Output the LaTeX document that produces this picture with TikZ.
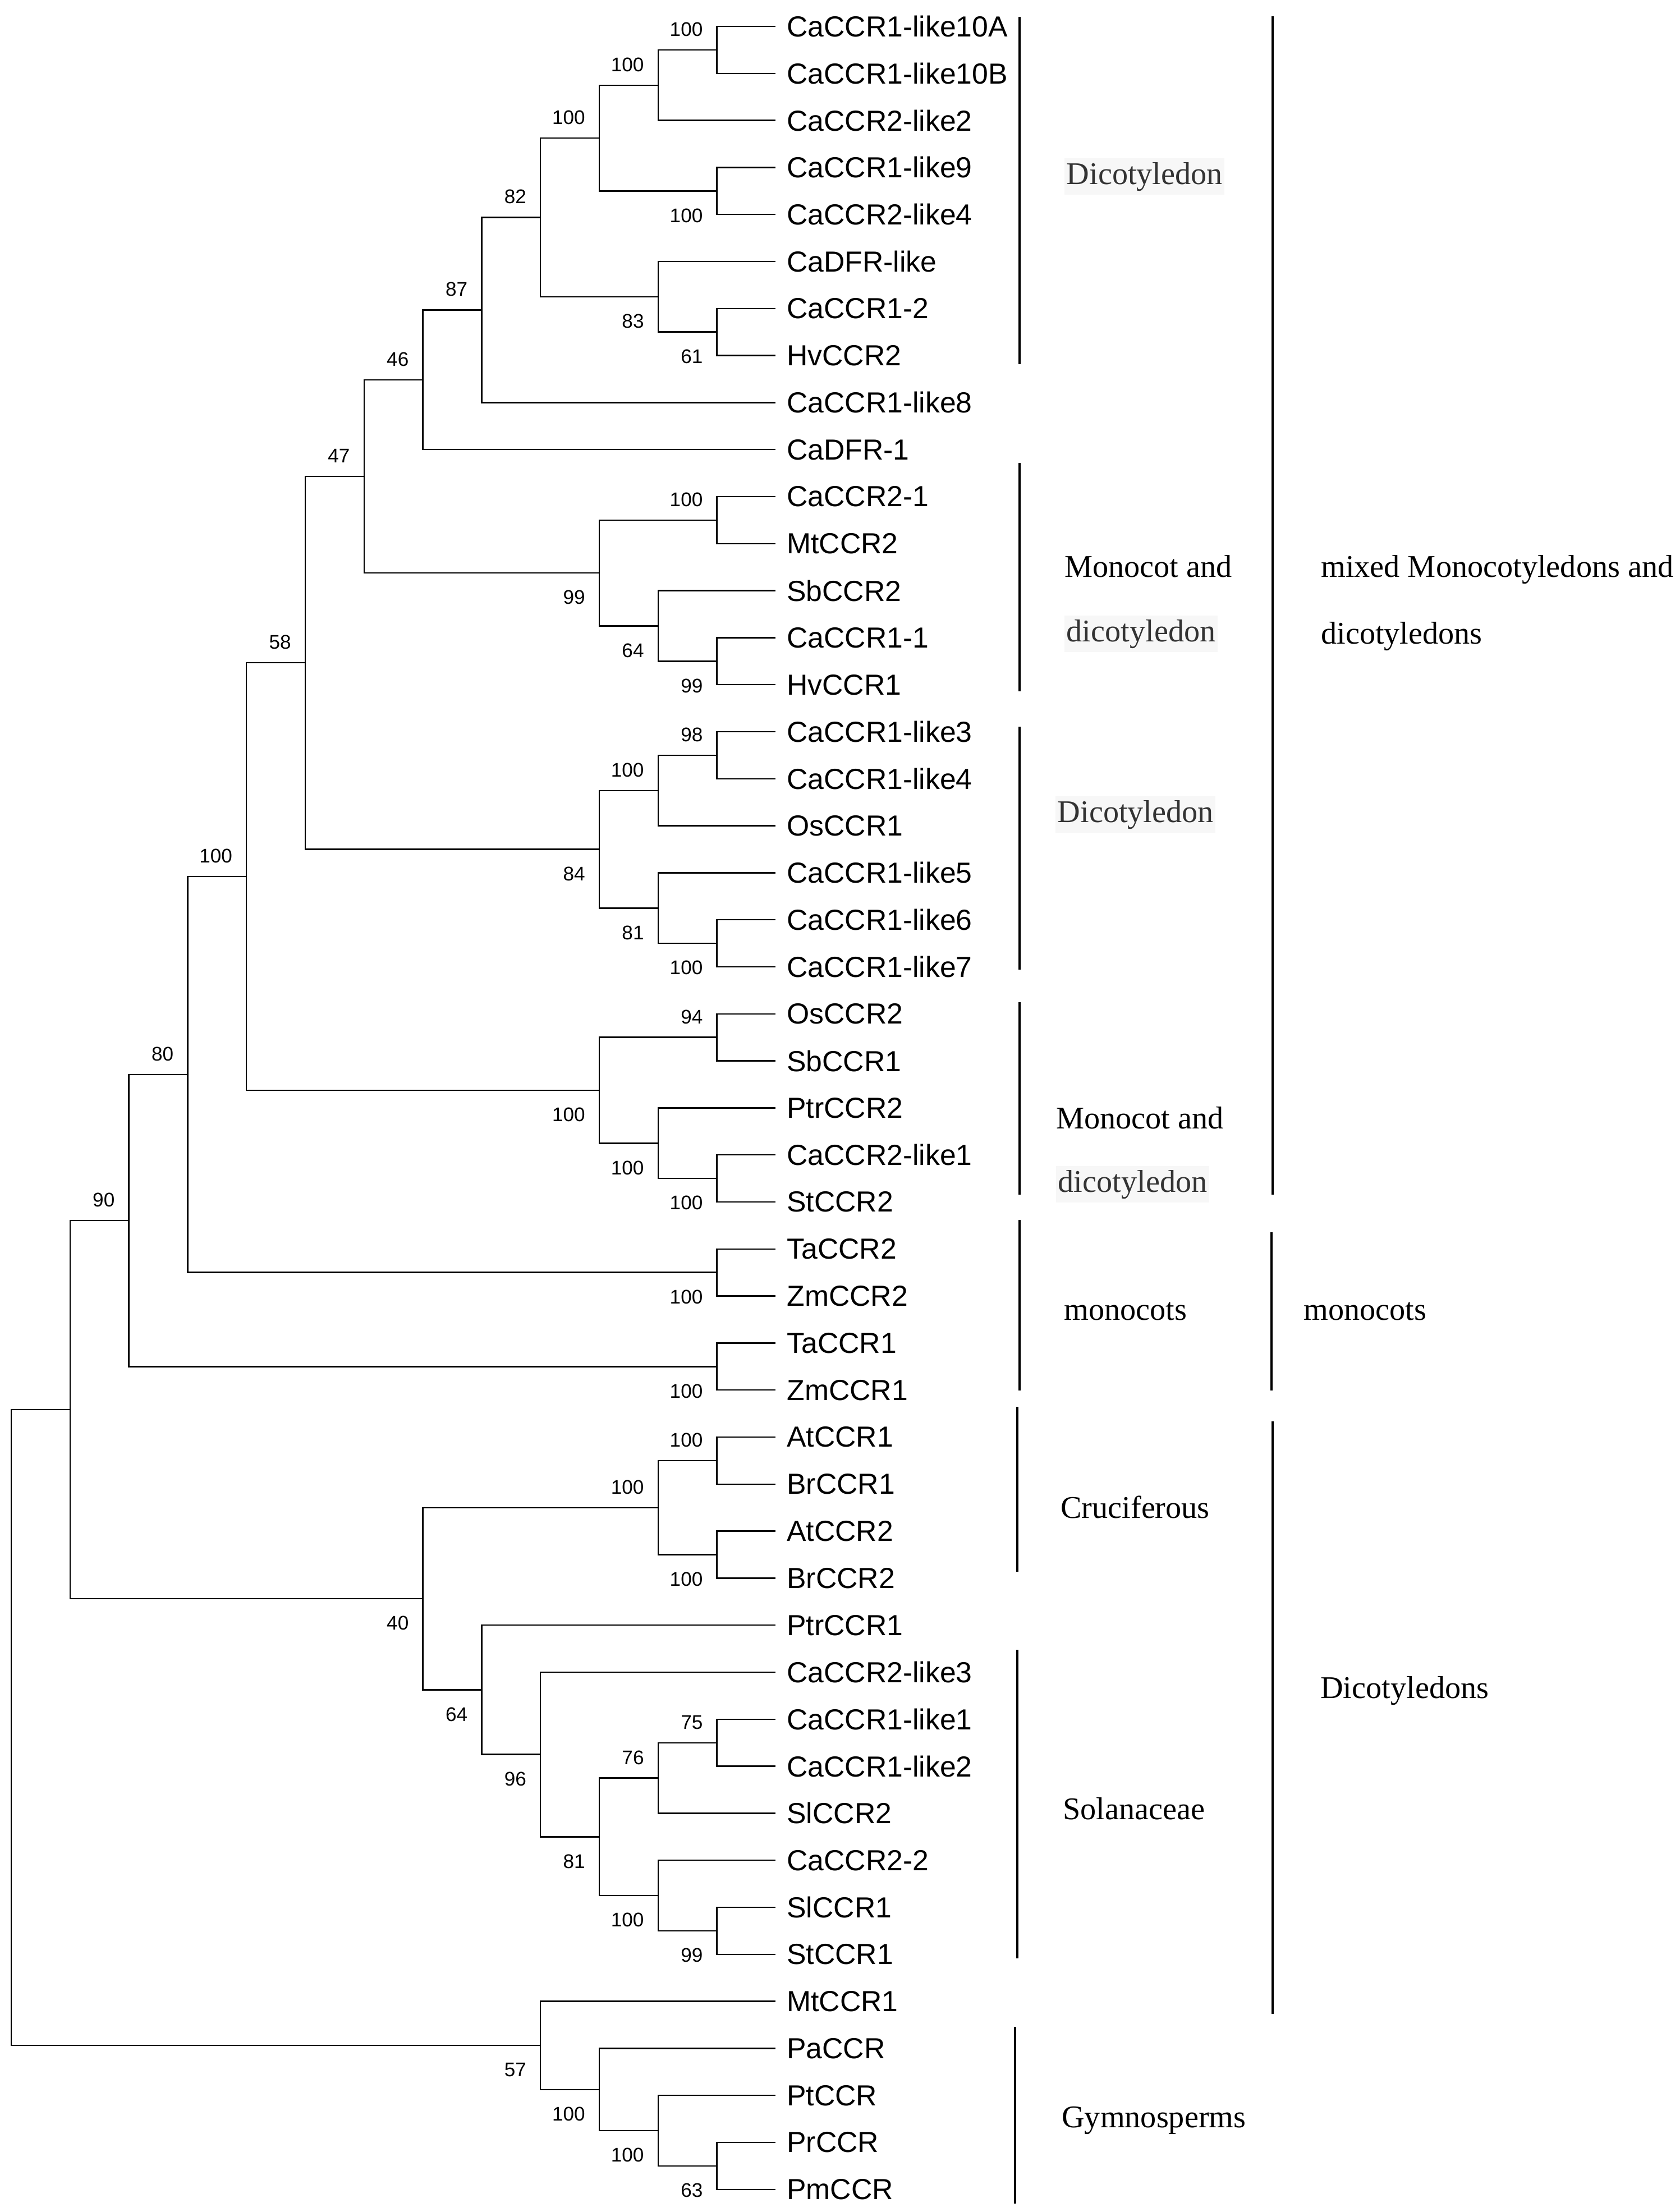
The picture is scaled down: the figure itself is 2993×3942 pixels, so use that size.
\documentclass[tikz,border=0pt]{standalone}
\usepackage{fontspec}
\setmainfont{Liberation Serif}
\setsansfont{Liberation Sans}
\newcommand{\clade}[3]{\draw (#1) |- (#2); \draw (#1) |- (#3);}
\newcommand{\bsup}[2]{\node[bs,anchor=south east,xshift=-0.24cm,yshift=0.23cm] at (#1) {#2};}
\newcommand{\bsdown}[2]{\node[bs,anchor=north east,xshift=-0.24cm,yshift=-0.30cm] at (#1) {#2};}

\begin{document}
\begin{tikzpicture}[
  x={(0.01cm,0)},y={(0,-0.01cm)},
  declare function={lv(\k)=20+104.8*\k; yrow(\k)=47+83.8*\k;},
  every path/.style={line width=0.7pt},
  leaf/.style={anchor=west,inner sep=0pt,outer xsep=0.2cm,font=\sffamily\fontsize{14.7}{17}\selectfont},
  bs/.style={inner sep=0pt,font=\sffamily\fontsize{10}{12}\selectfont},
  grp/.style={anchor=base west,inner sep=0pt,font=\fontsize{16}{19}\selectfont},
  grpgray/.style={grp,inner xsep=1pt,inner ysep=2pt,fill=black!3,text=black!80}]
\tikzstyle{bar}=[line width=1.4pt]
\useasboundingbox (0,0) rectangle (2993,3942);
\foreach \lab [count=\i from 0] in {CaCCR1-like10A,CaCCR1-like10B,CaCCR2-like2,CaCCR1-like9,CaCCR2-like4,
  CaDFR-like,CaCCR1-2,HvCCR2,CaCCR1-like8,CaDFR-1,CaCCR2-1,MtCCR2,SbCCR2,CaCCR1-1,HvCCR1,
  CaCCR1-like3,CaCCR1-like4,OsCCR1,CaCCR1-like5,CaCCR1-like6,CaCCR1-like7,OsCCR2,SbCCR1,PtrCCR2,
  CaCCR2-like1,StCCR2,TaCCR2,ZmCCR2,TaCCR1,ZmCCR1,AtCCR1,BrCCR1,AtCCR2,BrCCR2,PtrCCR1,
  CaCCR2-like3,CaCCR1-like1,CaCCR1-like2,SlCCR2,CaCCR2-2,SlCCR1,StCCR1,MtCCR1,PaCCR,PtCCR,PrCCR,PmCCR}
  \node[leaf] (t\i) at ({lv(13)},{yrow(\i)}) {\lab};

\coordinate (a1) at ({lv(12)},{yrow(0.5)});
\coordinate (a2) at ({lv(11)},{yrow(1.25)});
\coordinate (a3) at ({lv(12)},{yrow(3.5)});
\coordinate (a4) at ({lv(10)},{yrow(2.375)});
\coordinate (a5) at ({lv(12)},{yrow(6.5)});
\coordinate (a6) at ({lv(11)},{yrow(5.75)});
\coordinate (a7) at ({lv(9)},{yrow(4.0625)});
\coordinate (a8) at ({lv(8)},{yrow(6.03125)});
\coordinate (a9) at ({lv(7)},{yrow(7.515625)});
\coordinate (b1) at ({lv(12)},{yrow(10.5)});
\coordinate (b2) at ({lv(12)},{yrow(13.5)});
\coordinate (b3) at ({lv(11)},{yrow(12.75)});
\coordinate (b4) at ({lv(10)},{yrow(11.625)});
\coordinate (a10) at ({lv(6)},{yrow(9.5703125)});
\coordinate (c1) at ({lv(12)},{yrow(15.5)});
\coordinate (c2) at ({lv(11)},{yrow(16.25)});
\coordinate (c3) at ({lv(12)},{yrow(19.5)});
\coordinate (c4) at ({lv(11)},{yrow(18.75)});
\coordinate (c5) at ({lv(10)},{yrow(17.5)});
\coordinate (a11) at ({lv(5)},{yrow(13.53515625)});
\coordinate (d1) at ({lv(12)},{yrow(21.5)});
\coordinate (d2) at ({lv(12)},{yrow(24.5)});
\coordinate (d3) at ({lv(11)},{yrow(23.75)});
\coordinate (d4) at ({lv(10)},{yrow(22.625)});
\coordinate (a12) at ({lv(4)},{yrow(18.080078)});
\coordinate (e1) at ({lv(12)},{yrow(26.5)});
\coordinate (a13) at ({lv(3)},{yrow(22.290039)});
\coordinate (e2) at ({lv(12)},{yrow(28.5)});
\coordinate (a14) at ({lv(2)},{yrow(25.39502)});
\coordinate (f1) at ({lv(12)},{yrow(30.5)});
\coordinate (f2) at ({lv(12)},{yrow(32.5)});
\coordinate (f3) at ({lv(11)},{yrow(31.5)});
\coordinate (g1) at ({lv(12)},{yrow(36.5)});
\coordinate (g2) at ({lv(11)},{yrow(37.25)});
\coordinate (g3) at ({lv(12)},{yrow(40.5)});
\coordinate (g4) at ({lv(11)},{yrow(39.75)});
\coordinate (g5) at ({lv(10)},{yrow(38.5)});
\coordinate (g6) at ({lv(9)},{yrow(36.75)});
\coordinate (g7) at ({lv(8)},{yrow(35.375)});
\coordinate (f4) at ({lv(7)},{yrow(33.4375)});
\coordinate (a15) at ({lv(1)},{yrow(29.41626)});
\coordinate (h1) at ({lv(12)},{yrow(45.5)});
\coordinate (h2) at ({lv(11)},{yrow(44.75)});
\coordinate (h3) at ({lv(10)},{yrow(43.875)});
\coordinate (h4) at ({lv(9)},{yrow(42.9375)});
\coordinate (root) at ({lv(0)},{yrow(36.17688)});

\clade{a1}{t0}{t1}
\clade{a2}{a1}{t2}
\clade{a3}{t3}{t4}
\clade{a4}{a2}{a3}
\clade{a5}{t6}{t7}
\clade{a6}{t5}{a5}
\clade{a7}{a4}{a6}
\clade{a8}{a7}{t8}
\clade{a9}{a8}{t9}
\clade{b1}{t10}{t11}
\clade{b2}{t13}{t14}
\clade{b3}{t12}{b2}
\clade{b4}{b1}{b3}
\clade{a10}{a9}{b4}
\clade{c1}{t15}{t16}
\clade{c2}{c1}{t17}
\clade{c3}{t19}{t20}
\clade{c4}{t18}{c3}
\clade{c5}{c2}{c4}
\clade{a11}{a10}{c5}
\clade{d1}{t21}{t22}
\clade{d2}{t24}{t25}
\clade{d3}{t23}{d2}
\clade{d4}{d1}{d3}
\clade{a12}{a11}{d4}
\clade{e1}{t26}{t27}
\clade{a13}{a12}{e1}
\clade{e2}{t28}{t29}
\clade{a14}{a13}{e2}
\clade{f1}{t30}{t31}
\clade{f2}{t32}{t33}
\clade{f3}{f1}{f2}
\clade{g1}{t36}{t37}
\clade{g2}{g1}{t38}
\clade{g3}{t40}{t41}
\clade{g4}{t39}{g3}
\clade{g5}{g2}{g4}
\clade{g6}{t35}{g5}
\clade{g7}{t34}{g6}
\clade{f4}{f3}{g7}
\clade{a15}{a14}{f4}
\clade{h1}{t45}{t46}
\clade{h2}{t44}{h1}
\clade{h3}{t43}{h2}
\clade{h4}{t42}{h3}
\clade{root}{a15}{h4}

\bsup{a1}{100}
\bsup{a2}{100}
\bsdown{a3}{100}
\bsup{a4}{100}
\bsdown{a5}{61}
\bsdown{a6}{83}
\bsup{a7}{82}
\bsup{a8}{87}
\bsup{a9}{46}
\bsup{b1}{100}
\bsdown{b2}{99}
\bsdown{b3}{64}
\bsdown{b4}{99}
\bsup{a10}{47}
\bsup{c1}{98}
\bsup{c2}{100}
\bsdown{c3}{100}
\bsdown{c4}{81}
\bsdown{c5}{84}
\bsup{a11}{58}
\bsup{d1}{94}
\bsdown{d2}{100}
\bsdown{d3}{100}
\bsdown{d4}{100}
\bsup{a12}{100}
\bsdown{e1}{100}
\bsup{a13}{80}
\bsdown{e2}{100}
\bsup{a14}{90}
\bsup{f1}{100}
\bsdown{f2}{100}
\bsup{f3}{100}
\bsup{g1}{75}
\bsup{g2}{76}
\bsdown{g3}{99}
\bsdown{g4}{100}
\bsdown{g5}{81}
\bsdown{g6}{96}
\bsdown{g7}{64}
\bsdown{f4}{40}
\bsdown{h1}{63}
\bsdown{h2}{100}
\bsdown{h3}{100}
\bsdown{h4}{57}

\draw[bar] (1817,30) -- (1817,649);
\draw[bar] (1817,825) -- (1817,1232);
\draw[bar] (1817,1295) -- (1817,1728);
\draw[bar] (1817,1786) -- (1817,2129);
\draw[bar] (1817,2174) -- (1817,2478);
\draw[bar] (1813,2507) -- (1813,2801);
\draw[bar] (1813,2940) -- (1813,3490);
\draw[bar] (1809,3612) -- (1809,3927);
\draw[bar] (2268,29) -- (2268,2129);
\draw[bar] (2266,2196) -- (2266,2478);
\draw[bar] (2268,2533) -- (2268,3589);

\node[grpgray] (g-dic1) at (1896,328) {Dicotyledon};
\node[grp] (g-mon1) at (1896,1028) {Monocot and};
\node[grpgray] (g-dic2) at (1896,1143) {dicotyledon};
\node[grpgray] (g-dic3) at (1880,1465) {Dicotyledon};
\node[grp] (g-mon2) at (1881,2011) {Monocot and};
\node[grpgray] (g-dic4) at (1881,2124) {dicotyledon};
\node[grp] (g-mono1) at (1895,2352) {monocots};
\node[grp] (g-cru) at (1889,2705) {Cruciferous};
\node[grp] (g-sol) at (1893,3242) {Solanaceae};
\node[grp] (g-gym) at (1891,3791) {Gymnosperms};
\node[grp] (g-mix1) at (2353,1028) {mixed Monocotyledons and};
\node[grp] (g-mix2) at (2353,1147) {dicotyledons};
\node[grp] (g-mono2) at (2322,2352) {monocots};
\node[grp] (g-dicots) at (2352,3026) {Dicotyledons};
\end{tikzpicture}
\end{document}
